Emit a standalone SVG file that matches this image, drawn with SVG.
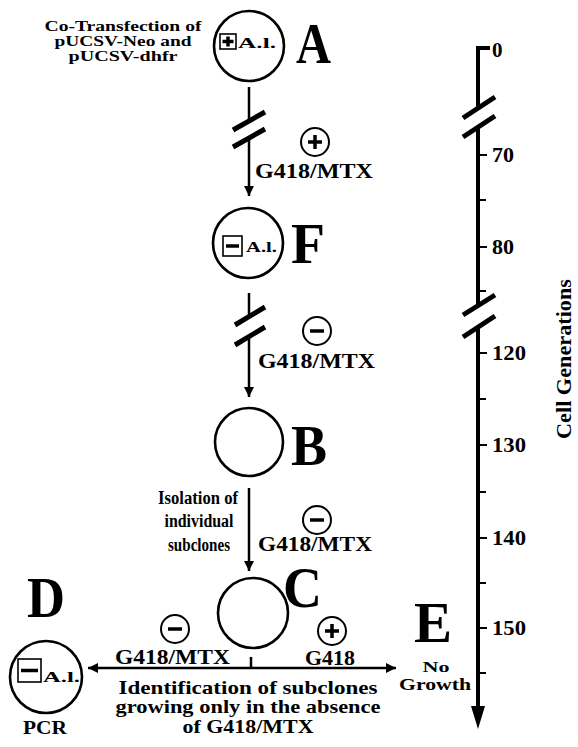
<svg xmlns="http://www.w3.org/2000/svg" width="578" height="747" viewBox="0 0 578 747">
  <style>
    .t { font-family: "Liberation Serif", "Times New Roman", serif; font-weight: bold; fill: #000; }
    .big { font-size: 58px; }
    .lbl { font-size: 14px; }
    .drug { font-size: 22px; }
    .ai { font-size: 15px; }
    .num { font-size: 21px; }
    .cell { fill: #fff; stroke: #000; stroke-width: 2.6; }
    .sign { fill: #fff; stroke: #000; stroke-width: 2; }
    .bar { stroke: #000; stroke-width: 3.5; fill: none; }
    .box { fill: #fff; stroke: #000; stroke-width: 1.6; }
    .line { stroke: #000; stroke-width: 2.5; fill: none; }
    .brk { stroke: #000; stroke-width: 5; fill: none; }
    .axis { stroke: #000; stroke-width: 4; fill: none; }
    .tick { stroke: #000; stroke-width: 2; }
  </style>
  <defs>
    <marker id="head" viewBox="0 0 10 10" refX="10" refY="5" markerWidth="4" markerHeight="4" orient="auto" markerUnits="strokeWidth">
      <path d="M0,0 L10,5 L0,10 Z" fill="#000"/>
    </marker>
    <!-- selection signs -->
    <g id="plus">
      <circle class="sign" r="14"/>
      <path class="bar" d="M-7,0 H7 M0,-7 V7"/>
    </g>
    <g id="minus">
      <circle class="sign" r="14"/>
      <path class="bar" d="M-7,0 H7" stroke-width="4"/>
    </g>
  </defs>

  <!-- connectors -->
  <g id="connectors">
    <!-- A to F, with break -->
    <line class="line" x1="249" y1="87" x2="249" y2="121"/>
    <line class="line" x1="249" y1="139" x2="249" y2="196" marker-end="url(#head)"/>
    <line class="brk" x1="233" y1="130" x2="265" y2="112"/>
    <line class="brk" x1="233" y1="147" x2="265" y2="129"/>
    <!-- F to B, with break -->
    <line class="line" x1="249" y1="293" x2="249" y2="316"/>
    <line class="line" x1="249" y1="336" x2="249" y2="397" marker-end="url(#head)"/>
    <line class="brk" x1="235" y1="325" x2="265" y2="307"/>
    <line class="brk" x1="235" y1="345" x2="265" y2="327"/>
    <!-- B to C -->
    <line class="line" x1="249" y1="488" x2="249" y2="571" marker-end="url(#head)"/>
    <!-- C to D and E -->
    <line class="line" x1="251" y1="668" x2="88" y2="668" marker-end="url(#head)"/>
    <line class="line" x1="251" y1="668" x2="396" y2="668" marker-end="url(#head)"/>
    <line class="line" x1="251" y1="657" x2="251" y2="668"/>
  </g>

  <!-- selection conditions -->
  <g id="cond-AF">
    <use href="#plus" x="315" y="142"/>
    <text class="t drug" x="255" y="178" textLength="118" lengthAdjust="spacingAndGlyphs">G418/MTX</text>
  </g>
  <g id="cond-FB">
    <use href="#minus" x="317" y="331"/>
    <text class="t drug" x="258" y="368" textLength="117" lengthAdjust="spacingAndGlyphs">G418/MTX</text>
  </g>
  <g id="cond-BC">
    <use href="#minus" x="317" y="520"/>
    <text class="t drug" x="258" y="551" textLength="114" lengthAdjust="spacingAndGlyphs">G418/MTX</text>
    <text class="t" font-size="18" text-anchor="middle" x="198" y="504" textLength="80" lengthAdjust="spacingAndGlyphs">Isolation of</text>
    <text class="t" font-size="18" text-anchor="middle" x="199" y="527" textLength="69" lengthAdjust="spacingAndGlyphs">individual</text>
    <text class="t" font-size="18" text-anchor="middle" x="199" y="551" textLength="62" lengthAdjust="spacingAndGlyphs">subclones</text>
  </g>
  <g id="cond-CD">
    <use href="#minus" x="175" y="629"/>
    <text class="t drug" x="115" y="664" textLength="115" lengthAdjust="spacingAndGlyphs">G418/MTX</text>
  </g>
  <g id="cond-CE">
    <use href="#plus" x="332" y="631"/>
    <text class="t drug" x="305" y="665" textLength="50" lengthAdjust="spacingAndGlyphs">G418</text>
  </g>
  <g id="note-identification">
    <text class="t" font-size="19" text-anchor="middle" x="248" y="694" textLength="259" lengthAdjust="spacingAndGlyphs">Identification of subclones</text>
    <text class="t" font-size="19" text-anchor="middle" x="248" y="713" textLength="265" lengthAdjust="spacingAndGlyphs">growing only in the absence</text>
    <text class="t" font-size="19" text-anchor="middle" x="248" y="733" textLength="131" lengthAdjust="spacingAndGlyphs">of G418/MTX</text>
  </g>

  <!-- nodes -->
  <g id="node-A">
    <text class="t lbl" text-anchor="middle" x="123" y="31" textLength="157" lengthAdjust="spacingAndGlyphs">Co-Transfection of</text>
    <text class="t lbl" text-anchor="middle" x="123" y="46" textLength="137" lengthAdjust="spacingAndGlyphs">pUCSV-Neo and</text>
    <text class="t lbl" text-anchor="middle" x="123" y="61" textLength="109" lengthAdjust="spacingAndGlyphs">pUCSV-dhfr</text>
    <circle class="cell" cx="249" cy="46" r="35"/>
    <rect class="box" x="220" y="34" width="16" height="15"/>
    <path class="bar" d="M222.5,41.5 H233.5 M228,36.5 V46.5" stroke-width="3"/>
    <text class="t ai" x="238" y="48" textLength="38" lengthAdjust="spacingAndGlyphs">A.l.</text>
    <text class="t big" x="296" y="63" textLength="35" lengthAdjust="spacingAndGlyphs">A</text>
  </g>

  <g id="node-F">
    <circle class="cell" cx="248" cy="243" r="35"/>
    <rect class="box" x="223" y="236" width="19" height="20"/>
    <path class="bar" d="M226,246 H239" stroke-width="4"/>
    <text class="t ai" x="246" y="252" textLength="31" lengthAdjust="spacingAndGlyphs">A.l.</text>
    <text class="t big" x="291" y="263" textLength="34" lengthAdjust="spacingAndGlyphs">F</text>
  </g>

  <g id="node-B">
    <circle class="cell" cx="249" cy="442" r="34"/>
    <text class="t big" x="291" y="465" textLength="36" lengthAdjust="spacingAndGlyphs">B</text>
  </g>

  <g id="node-C">
    <circle class="cell" cx="253" cy="613" r="35"/>
    <text class="t big" x="283" y="607" textLength="39" lengthAdjust="spacingAndGlyphs">C</text>
  </g>

  <g id="node-D">
    <text class="t big" x="27" y="617" textLength="38" lengthAdjust="spacingAndGlyphs">D</text>
    <circle class="cell" cx="46" cy="677" r="36"/>
    <rect class="box" x="18" y="659" width="23" height="23"/>
    <path class="bar" d="M21,670.5 H38" stroke-width="4"/>
    <text class="t ai" x="43" y="682" textLength="37" lengthAdjust="spacingAndGlyphs">A.l.</text>
    <text class="t" font-size="19" text-anchor="middle" x="45" y="734" textLength="44" lengthAdjust="spacingAndGlyphs">PCR</text>
  </g>

  <g id="node-E">
    <text class="t big" x="414" y="642" textLength="38" lengthAdjust="spacingAndGlyphs">E</text>
    <text class="t" font-size="15" text-anchor="middle" x="436" y="672" textLength="27" lengthAdjust="spacingAndGlyphs">No</text>
    <text class="t" font-size="16" text-anchor="middle" x="435" y="690" textLength="72" lengthAdjust="spacingAndGlyphs">Growth</text>
  </g>

  <!-- cell generation axis -->
  <g id="axis">
    <path class="axis" d="M490,48 H478 V108"/>
    <line class="axis" x1="478" y1="128" x2="478" y2="306"/>
    <line class="axis" x1="478" y1="327" x2="478" y2="708"/>
    <path d="M471,706 L485,706 L478,729 Z" fill="#000"/>
    <line class="brk" x1="463" y1="118" x2="495" y2="97"/>
    <line class="brk" x1="463" y1="137" x2="495" y2="116"/>
    <line class="brk" x1="463" y1="315" x2="495" y2="295"/>
    <line class="brk" x1="463" y1="337" x2="495" y2="316"/>
    <g class="tick">
      <line x1="478" y1="155" x2="487" y2="155"/>
      <line x1="478" y1="200" x2="486" y2="200"/>
      <line x1="478" y1="247" x2="487" y2="247"/>
      <line x1="478" y1="291" x2="486" y2="291"/>
      <line x1="478" y1="353" x2="487" y2="353"/>
      <line x1="478" y1="399" x2="486" y2="399"/>
      <line x1="478" y1="445" x2="487" y2="445"/>
      <line x1="478" y1="492" x2="486" y2="492"/>
      <line x1="478" y1="538" x2="487" y2="538"/>
      <line x1="478" y1="583" x2="486" y2="583"/>
      <line x1="478" y1="628" x2="487" y2="628"/>
      <line x1="478" y1="673" x2="486" y2="673"/>
    </g>
    <text class="t num" x="492" y="57">0</text>
    <text class="t num" x="492" y="162" textLength="22" lengthAdjust="spacingAndGlyphs">70</text>
    <text class="t num" x="492" y="254" textLength="22" lengthAdjust="spacingAndGlyphs">80</text>
    <text class="t num" x="492" y="360" textLength="34" lengthAdjust="spacingAndGlyphs">120</text>
    <text class="t num" x="492" y="452" textLength="34" lengthAdjust="spacingAndGlyphs">130</text>
    <text class="t num" x="492" y="545" textLength="34" lengthAdjust="spacingAndGlyphs">140</text>
    <text class="t num" x="492" y="635" textLength="34" lengthAdjust="spacingAndGlyphs">150</text>
    <text class="t" font-size="20" text-anchor="middle" transform="translate(571,359) rotate(-90)" textLength="160" lengthAdjust="spacingAndGlyphs">Cell Generations</text>
  </g>
</svg>
